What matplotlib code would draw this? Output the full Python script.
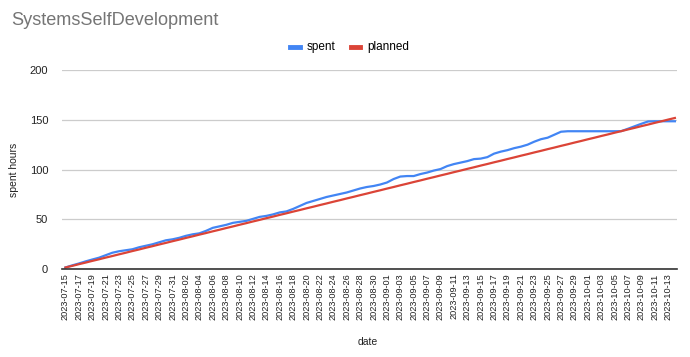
import pandas as pd
import matplotlib.pyplot as plt

plt.rcParams['font.family'] = ['Liberation Sans', 'DejaVu Sans']

# daily dates, 2023-07-15 .. 2023-10-14
dates = pd.date_range("2023-07-15", "2023-10-14", freq="D").strftime("%Y-%m-%d").tolist()

spent = [
    1.7, 3.8, 5.7, 7.8, 9.7, 11.5, 14.0, 16.5, 18.0, 19.0,   # 07-15 .. 07-24
    20.0, 22.0, 23.5, 25.0, 27.0, 29.0, 30.0, 31.5, 33.5, 35.0,   # 07-25 .. 08-03
    36.0, 38.5, 41.5, 43.0, 44.5, 46.5, 47.5, 48.5, 50.5, 52.5,   # 08-04 .. 08-13
    53.5, 55.0, 57.0, 58.0, 60.5, 63.5, 66.5, 68.5, 70.5, 72.5,   # 08-14 .. 08-23
    74.0, 75.5, 77.0, 79.0, 81.0, 82.5, 83.5, 85.0, 87.0, 90.5,   # 08-24 .. 09-02
    93.0, 93.5, 93.5, 95.5, 97.0, 99.0, 100.5, 103.5, 105.5, 107.0,   # 09-03 .. 09-12
    108.5, 110.5, 111.0, 112.5, 116.0, 118.0, 119.5, 121.5, 123.0, 125.0,   # 09-13 .. 09-22
    128.0, 130.5, 132.0, 135.0, 138.0, 138.5, 138.5, 138.5, 138.5, 138.5,   # 09-23 .. 10-02
    138.5, 138.5, 138.5, 138.6, 141.0, 143.5, 146.0, 148.3, 148.5, 148.5,   # 10-03 .. 10-12
    148.5, 148.5,   # 10-13 .. 10-14
]

planned = [
    1.7, 3.3, 5.0, 6.6, 8.3, 9.9, 11.6, 13.2, 14.9, 16.5,
    18.2, 19.8, 21.5, 23.1, 24.8, 26.4, 28.1, 29.7, 31.4, 33.0,
    34.7, 36.3, 38.0, 39.6, 41.3, 42.9, 44.6, 46.2, 47.9, 49.5,
    51.2, 52.8, 54.5, 56.1, 57.8, 59.4, 61.1, 62.7, 64.4, 66.0,
    67.7, 69.3, 71.0, 72.6, 74.3, 75.9, 77.6, 79.2, 80.9, 82.5,
    84.2, 85.8, 87.5, 89.1, 90.8, 92.4, 94.1, 95.7, 97.4, 99.0,
    100.7, 102.3, 104.0, 105.6, 107.3, 108.9, 110.6, 112.2, 113.9, 115.5,
    117.2, 118.8, 120.5, 122.1, 123.8, 125.4, 127.1, 128.7, 130.4, 132.0,
    133.7, 135.3, 137.0, 138.6, 140.3, 141.9, 143.6, 145.2, 146.9, 148.5,
    150.2, 151.8,
]

x = list(range(len(dates)))

fig = plt.figure(figsize=(6.9, 3.57), dpi=100)
ax = fig.add_axes([0.09, 0.246, 0.891, 0.558])

ax.plot(x, spent, color="#4285F4", lw=1.6, label="spent", zorder=3)
ax.plot(x, planned, color="#DB4437", lw=1.6, label="planned", zorder=4)

ax.set_ylim(0, 200)
ax.set_yticks([0, 50, 100, 150, 200])
ax.set_xlim(-0.5, 91.3)
ax.set_xticks(x[::2])
ax.set_xticklabels(dates[::2], rotation=90, fontsize=6.6, color="#222222")
ax.tick_params(axis="y", labelsize=8, colors="#222222", length=0, pad=10)
ax.tick_params(axis="x", length=0, pad=3)

ax.grid(axis="y", color="#cccccc", lw=0.9)
ax.set_axisbelow(True)
for s in ["top", "right", "left"]:
    ax.spines[s].set_visible(False)
ax.spines["bottom"].set_color("#333333")
ax.spines["bottom"].set_linewidth(1.2)
ax.spines["bottom"].set_zorder(5)

ax.set_ylabel("spent hours", fontsize=7.5, color="#222222", labelpad=8)
fig.text(0.533, 0.035, "date", fontsize=7.5, color="#222222", ha="center")

fig.text(0.016, 0.93, "SystemsSelfDevelopment", fontsize=13.1, color="#757575")

fig.legend(loc="center", bbox_to_anchor=(0.507, 0.868), ncol=2, frameon=False,
           fontsize=8.5, handlelength=0.8, handleheight=0.3, columnspacing=1.3,
           handletextpad=0.6)
for h in fig.legends[0].legend_handles:
    h.set_linewidth(3.5)

fig.savefig("out.png", dpi=100)
